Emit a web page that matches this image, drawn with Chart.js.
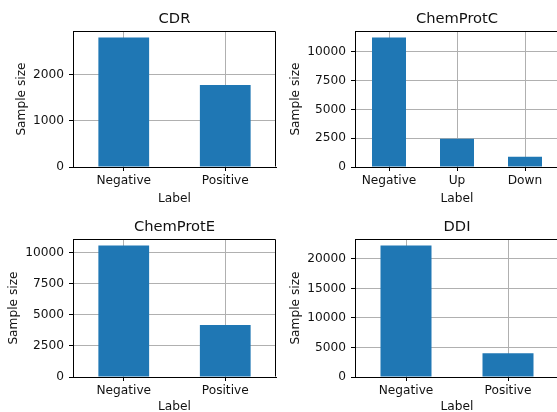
<!DOCTYPE html>
<html lang="en">
<head>
    <meta charset="UTF-8">
    <title>Label distribution</title>
    <script src="https://cdn.jsdelivr.net/npm/chart.js"></script>
    <style>
        body { margin: 0; background: #fff; }
        #fig { position: relative; width: 557px; height: 412px; overflow: hidden; background: #fff; }
        #fig canvas { position: absolute; }
    </style>
</head>
<body>
<div id="fig">
    <canvas id="cdr" width="278" height="212" style="left:0;top:0"></canvas>
    <canvas id="chemprotc" width="290" height="212" style="left:278px;top:0"></canvas>
    <canvas id="chemprote" width="278" height="212" style="left:0;top:206px"></canvas>
    <canvas id="ddi" width="290" height="212" style="left:278px;top:206px"></canvas>
</div>
<script>
    // values
    const cdrLabels = ['Negative', 'Positive'];
    const cdrValues = [2810, 1780];
    const cdrTicks = [0, 1000, 2000];
    const chemprotcLabels = ['Negative', 'Up', 'Down'];
    const chemprotcValues = [11230, 2440, 890];
    const chemprotcTicks = [0, 2500, 5000, 7500, 10000];
    const chemproteLabels = ['Negative', 'Positive'];
    const chemproteValues = [10570, 4180];
    const chemproteTicks = [0, 2500, 5000, 7500, 10000];
    const ddiLabels = ['Negative', 'Positive'];
    const ddiValues = [22230, 4030];
    const ddiTicks = [0, 5000, 10000, 15000, 20000];

    const FONT = "'DejaVu Sans', sans-serif";
    const INK = '#111';

    // draws the top and right spines (matplotlib box)
    const spines = {
        id: 'spines',
        afterDatasetsDraw(chart) {
            const a = chart.chartArea, ctx = chart.ctx;
            ctx.save();
            ctx.strokeStyle = '#000';
            ctx.lineWidth = 1;
            ctx.beginPath();
            const l = Math.round(a.left) + 0.5, r = Math.round(a.right) - 0.5;
            const t = Math.round(a.top) + 0.5, b = Math.round(a.bottom) - 0.5;
            ctx.moveTo(l, t); ctx.lineTo(r, t); ctx.lineTo(r, b);
            ctx.stroke();
            ctx.restore();
        }
    };

    function makePanel(id, title, labels, values, tickValues, lay) {
        new Chart(document.getElementById(id), {
            type: 'bar',
            data: {
                labels: labels,
                datasets: [{
                    data: values,
                    backgroundColor: '#1f77b4',
                    barPercentage: 0.5,
                    categoryPercentage: 1.0
                }]
            },
            options: {
                responsive: false,
                animation: false,
                layout: { padding: { left: 0, right: lay.padRight, top: 0, bottom: 0 } },
                plugins: {
                    legend: { display: false },
                    tooltip: { enabled: false },
                    title: {
                        display: true,
                        text: title,
                        fullSize: false,
                        color: INK,
                        font: { family: FONT, size: 14.7, weight: 'normal', lineHeight: 1.2 },
                        padding: { top: lay.titleTop, bottom: lay.titleBottom }
                    }
                },
                scales: {
                    x: {
                        offset: true,
                        grid: { offset: false, color: '#b0b0b0', lineWidth: 1, tickLength: 4, tickColor: '#000' },
                        border: { color: '#000', width: 1 },
                        ticks: { color: INK, padding: 2.5, maxRotation: 0, font: { family: FONT, size: 12.2 } },
                        title: {
                            display: true, text: 'Label', color: INK,
                            font: { family: FONT, size: 12.2, lineHeight: 1.2 },
                            padding: { top: 0, bottom: lay.xTitlePad }
                        },
                        afterFit(s) { s.height = lay.xHeight; }
                    },
                    y: {
                        min: 0,
                        max: Math.max(...values) * 1.05,
                        grid: { color: '#b0b0b0', lineWidth: 1, tickLength: 4, tickColor: '#000' },
                        border: { color: '#000', width: 1 },
                        ticks: {
                            color: INK, padding: 5,
                            font: { family: FONT, size: 12.2 },
                            callback: v => String(v)
                        },
                        afterBuildTicks(s) { s.ticks = tickValues.map(v => ({ value: v })); },
                        title: {
                            display: true, text: 'Sample size', color: INK,
                            font: { family: FONT, size: 12.2, lineHeight: 1.2 },
                            padding: { top: lay.yTitlePad, bottom: 0 }
                        },
                        afterFit(s) { s.width = lay.yWidth; }
                    }
                }
            },
            plugins: [spines]
        });
    }

    makePanel('cdr', 'CDR', cdrLabels, cdrValues, cdrTicks,
        { yWidth: 73, padRight: 2, titleTop: 9.9, titleBottom: 3.5, xHeight: 45, xTitlePad: 6, yTitlePad: 14.4 });
    makePanel('chemprotc', 'ChemProtC', chemprotcLabels, chemprotcValues, chemprotcTicks,
        { yWidth: 77, padRight: 9, titleTop: 9.9, titleBottom: 3.5, xHeight: 45, xTitlePad: 6, yTitlePad: 10.7 });
    makePanel('chemprote', 'ChemProtE', chemproteLabels, chemproteValues, chemproteTicks,
        { yWidth: 73, padRight: 2, titleTop: 12.4, titleBottom: 3, xHeight: 41, xTitlePad: 3.6, yTitlePad: 6.4 });
    makePanel('ddi', 'DDI', ddiLabels, ddiValues, ddiTicks,
        { yWidth: 77, padRight: 9, titleTop: 12.4, titleBottom: 3, xHeight: 41, xTitlePad: 3.6, yTitlePad: 10.7 });
</script>
</body>
</html>
